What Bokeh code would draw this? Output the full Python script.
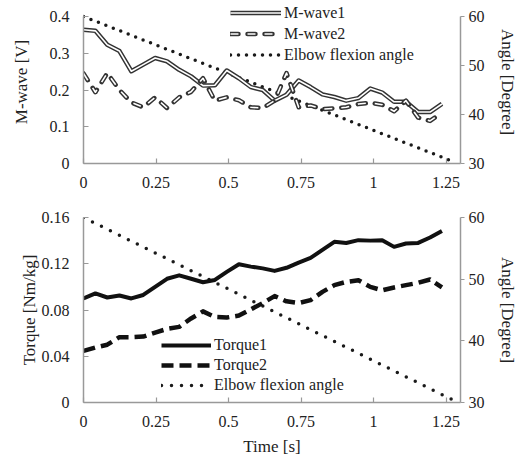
from bokeh.plotting import figure
from bokeh.models import (Range1d, LinearAxis, FixedTicker, CustomJSTickFormatter,
                          Legend, LegendItem)
from bokeh.layouts import column
from bokeh.embed import file_html
from bokeh.resources import INLINE

# ---------------- data ----------------
time_s = [0.000, 0.041, 0.082, 0.124, 0.165, 0.206, 0.247, 0.288, 0.330, 0.371,
          0.412, 0.453, 0.494, 0.536, 0.577, 0.618, 0.659, 0.700, 0.742, 0.783,
          0.824, 0.865, 0.906, 0.948, 0.989, 1.030, 1.071, 1.112, 1.154, 1.195,
          1.236]

mwave1 = [0.364, 0.361, 0.323, 0.306, 0.251, 0.269, 0.287, 0.278, 0.255, 0.237,
          0.212, 0.213, 0.253, 0.232, 0.208, 0.200, 0.171, 0.187, 0.226, 0.208,
          0.188, 0.181, 0.171, 0.178, 0.204, 0.193, 0.168, 0.168, 0.140, 0.140,
          0.162]

mwave2 = [0.245, 0.194, 0.246, 0.200, 0.166, 0.153, 0.180, 0.151, 0.180, 0.195,
          0.232, 0.171, 0.180, 0.172, 0.153, 0.151, 0.171, 0.246, 0.153, 0.158,
          0.148, 0.150, 0.153, 0.162, 0.165, 0.160, 0.142, 0.171, 0.125, 0.116,
          0.138]

torque1 = [0.0900, 0.0943, 0.0908, 0.0925, 0.0900, 0.0930, 0.1000, 0.1070, 0.1100, 0.1070,
           0.1040, 0.1060, 0.1130, 0.1196, 0.1175, 0.1160, 0.1138, 0.1165, 0.1210, 0.1250,
           0.1320, 0.1390, 0.1380, 0.1404, 0.1400, 0.1404, 0.1346, 0.1375, 0.1380, 0.1427,
           0.1484]

torque2 = [0.0446, 0.0476, 0.0500, 0.0565, 0.0565, 0.0570, 0.0605, 0.0636, 0.0654, 0.0727,
           0.0788, 0.0740, 0.0735, 0.0752, 0.0805, 0.0860, 0.0920, 0.0875, 0.0860, 0.0885,
           0.0957, 0.1015, 0.1043, 0.1058, 0.1000, 0.0970, 0.0995, 0.1015, 0.1035, 0.1064,
           0.0995]

angle_time = [0.0, 1.27]
angle_deg = [60.0, 30.5]

x_ticks = [0, 0.25, 0.5, 0.75, 1, 1.25]
mwave_ticks = [0, 0.1, 0.2, 0.3, 0.4]
torque_ticks = [0, 0.04, 0.08, 0.12, 0.16]
angle_ticks = [30, 40, 50, 60]

# ---------------- styling helpers ----------------
FONT = "Liberation Serif"
AXIS_COL = "#999999"
TEXT_COL = "#222222"

FRAME_W = 377
BORDER_L = 83
BORDER_R = 56


def style_axis(ax, ticks, tick_in, tick_out, standoff, label_standoff=5):
    ax.ticker = FixedTicker(ticks=ticks)
    ax.formatter = CustomJSTickFormatter(code="return tick.toString();")
    ax.axis_line_color = AXIS_COL
    ax.axis_line_width = 1.5
    ax.major_tick_line_color = AXIS_COL
    ax.major_tick_line_width = 1.2
    ax.major_tick_in = tick_in
    ax.major_tick_out = tick_out
    ax.minor_tick_line_color = None
    ax.major_label_text_font = FONT
    ax.major_label_text_font_size = "16px"
    ax.major_label_text_color = TEXT_COL
    ax.major_label_standoff = standoff
    ax.axis_label_text_font = FONT
    ax.axis_label_text_font_size = "17px"
    ax.axis_label_text_font_style = "normal"
    ax.axis_label_text_color = TEXT_COL
    ax.axis_label_standoff = label_standoff


def make_legend(items, loc, glyph_w, row_h, standoff):
    leg = Legend(items=items, location=loc)
    leg.glyph_width = glyph_w
    leg.glyph_height = row_h
    leg.label_height = row_h
    leg.spacing = 0
    leg.padding = 0
    leg.margin = 0
    leg.label_standoff = standoff
    leg.border_line_color = None
    leg.background_fill_alpha = 0
    leg.label_text_font = FONT
    leg.label_text_font_size = "16px"
    leg.label_text_color = TEXT_COL
    return leg


def right_axis(p, bounds):
    ax = LinearAxis(y_range_name="angle", axis_label="Angle [Degree]")
    style_axis(ax, angle_ticks, 0, 4, 4, 10)
    ax.bounds = bounds
    try:
        ax.axis_label_orientation = "vertical"
    except Exception:
        pass
    p.add_layout(ax, "right")
    return ax


# ---------------- top chart: M-wave ----------------
# frame reaches the canvas top so the legend above the 0.4 line is not clipped;
# the axes themselves stop at 0.4 / 60 through their bounds
FRAME_H1, DATA_H1 = 163, 147
top_ext = FRAME_H1 / DATA_H1
p1 = figure(frame_width=FRAME_W, frame_height=FRAME_H1,
            x_range=Range1d(0, 1.3), y_range=Range1d(0, 0.4 * top_ext),
            output_backend="svg", toolbar_location=None,
            min_border_left=BORDER_L, min_border_right=BORDER_R,
            min_border_top=0, min_border_bottom=37)
p1.extra_y_ranges = {"angle": Range1d(30, 30 + 30 * top_ext)}
p1.xgrid.visible = False
p1.ygrid.visible = False
p1.outline_line_color = None

style_axis(p1.xaxis[0], x_ticks, 5, 0, 13)
p1.yaxis[0].axis_label = "M-wave [V]"
style_axis(p1.yaxis[0], mwave_ticks, 5, 0, 14, 16)
p1.yaxis[0].bounds = (0, 0.4)
right_axis(p1, (30, 60))

DARK = "#333333"
ang1 = p1.line(angle_time, angle_deg, y_range_name="angle", line_color="#1a1a1a",
               line_width=3.5, line_dash="0 8", line_cap="round")
m1a = p1.line(time_s, mwave1, line_color=DARK, line_width=4.5, line_join="round")
m1b = p1.line(time_s, mwave1, line_color="white", line_width=1.6, line_join="round")
m2a = p1.line(time_s, mwave2, line_color=DARK, line_width=4.5, line_dash="8 9",
              line_cap="round", line_join="round")
m2b = p1.line(time_s, mwave2, line_color="white", line_width=1.6, line_dash="8 9",
              line_join="round")

leg1 = make_legend([
    LegendItem(label="M-wave1", renderers=[m1a, m1b]),
    LegendItem(label="M-wave2", renderers=[m2a, m2b]),
    LegendItem(label="Elbow flexion angle", renderers=[ang1]),
], (147, 98), 51, 21, 3)
p1.add_layout(leg1)

# ---------------- bottom chart: Torque ----------------
p2 = figure(frame_width=FRAME_W, frame_height=185,
            x_range=Range1d(0, 1.3), y_range=Range1d(0, 0.16),
            output_backend="svg", toolbar_location=None,
            min_border_left=BORDER_L, min_border_right=BORDER_R,
            min_border_top=17, min_border_bottom=40)
p2.extra_y_ranges = {"angle": Range1d(30, 60)}
p2.xgrid.visible = False
p2.ygrid.visible = False
p2.outline_line_color = None

p2.xaxis[0].axis_label = "Time [s]"
style_axis(p2.xaxis[0], x_ticks, 5, 0, 13, 7)
p2.yaxis[0].axis_label = "Torque [Nm/kg]"
style_axis(p2.yaxis[0], torque_ticks, 5, 0, 14, 0)
right_axis(p2, (30, 60))

ang2 = p2.line(angle_time, angle_deg, y_range_name="angle", line_color="#1a1a1a",
               line_width=3.5, line_dash="0 10", line_cap="round")
t1 = p2.line(time_s, torque1, line_color="#111111", line_width=4, line_join="round")
t2 = p2.line(time_s, torque2, line_color="#111111", line_width=4.5, line_dash="12 6",
             line_join="round")

leg2 = make_legend([
    LegendItem(label="Torque1", renderers=[t1]),
    LegendItem(label="Torque2", renderers=[t2]),
    LegendItem(label="Elbow flexion angle", renderers=[ang2]),
], (78, 7), 50, 20, 3)
p2.add_layout(leg2)

layout = column(p1, p2, spacing=0)
open("out.html", "w").write(file_html(layout, INLINE))
